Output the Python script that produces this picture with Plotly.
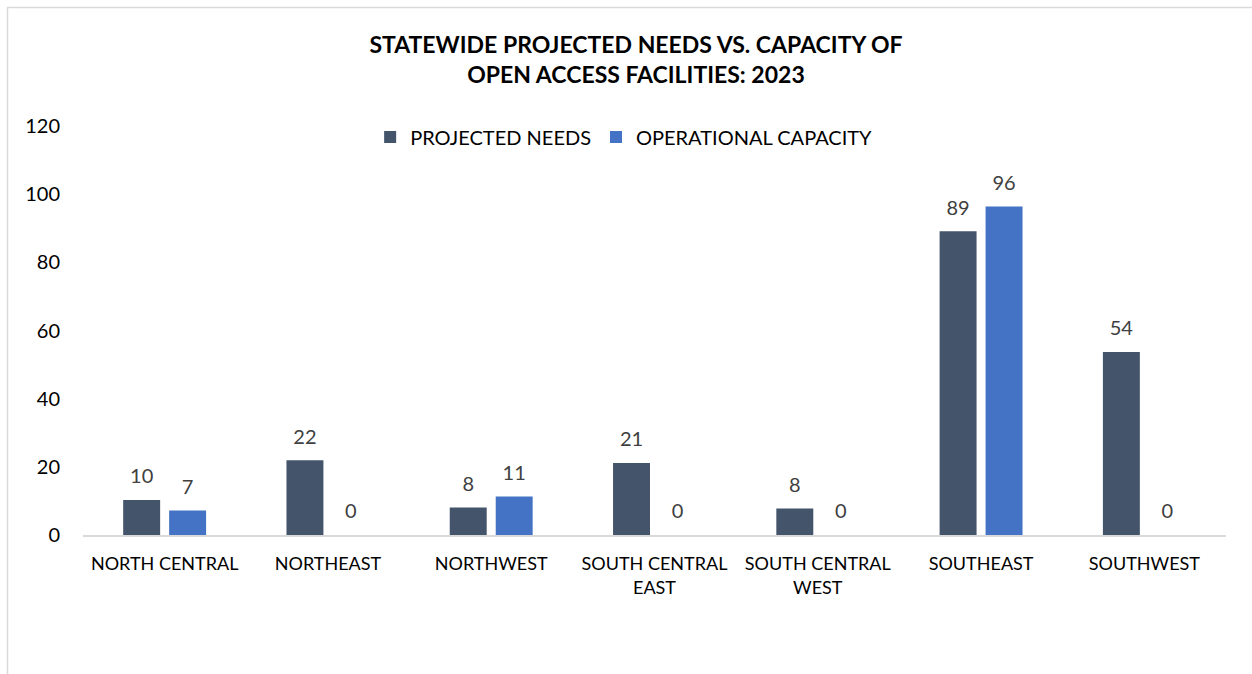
import plotly.graph_objects as go

categories = ["NORTH CENTRAL", "NORTHEAST", "NORTHWEST", "SOUTH CENTRAL<br>EAST",
              "SOUTH CENTRAL<br>WEST", "SOUTHEAST", "SOUTHWEST"]
projected_needs = [10.3, 21.9, 8.1, 21.1, 7.8, 89.1, 53.7]
operational_capacity = [7.2, 0, 11.3, 0, 0, 96.4, 0]
y_ticks = [0, 20, 40, 60, 80, 100, 120]

FONT = "Lato, 'Open Sans', sans-serif"
BARGAP = 0.437

fig = go.Figure()
for name, vals, color, grp in [("PROJECTED NEEDS", projected_needs, "#44546A", "a"),
                               ("OPERATIONAL CAPACITY", operational_capacity, "#4472C4", "b")]:
    fig.add_trace(go.Bar(
        name=name, x=categories, y=vals, offsetgroup=grp,
        marker=dict(color=color, line=dict(width=0)),
    ))
for vals, grp in [(projected_needs, "a"), (operational_capacity, "b")]:
    fig.add_trace(go.Scatter(
        x=categories, y=vals, offsetgroup=grp, mode="markers+text",
        marker=dict(size=17, opacity=0), showlegend=False, hoverinfo="skip",
        text=[f"{v:.0f}" for v in vals], textposition="top center",
        textfont=dict(size=20, color="#404040", family=FONT), cliponaxis=False,
    ))

fig.update_layout(
    width=1252, height=674,
    margin=dict(l=83, r=26, t=126, b=139),
    paper_bgcolor="white", plot_bgcolor="white",
    font=dict(family=FONT, size=18, color="#000000"),
    barmode="group", bargap=BARGAP, bargroupgap=0.196,
    scattermode="group", scattergap=BARGAP,
    title=dict(
        text="<b>STATEWIDE PROJECTED NEEDS VS. CAPACITY OF<br>OPEN ACCESS FACILITIES: 2023</b>",
        x=0.508, xanchor="center", xref="container",
        y=0.921, yanchor="middle", yref="container",
        font=dict(size=23, color="#000000", family=FONT),
    ),
    legend=dict(
        orientation="h", x=0.473, xanchor="center", y=0.973, yanchor="middle",
        font=dict(size=20, color="#000000", family=FONT),
        itemsizing="constant", traceorder="normal", itemwidth=30,
        bgcolor="rgba(0,0,0,0)",
    ),
    xaxis=dict(
        showgrid=False, showline=True, linecolor="#D9D9D9", linewidth=1.5,
        ticks="", tickfont=dict(size=18, color="#000000", family=FONT),
        ticklabelstandoff=12,
    ),
    yaxis=dict(
        range=[0, 120], tickvals=y_ticks, showgrid=False, zeroline=False,
        showline=False, ticks="", tickfont=dict(size=20, color="#000000", family=FONT),
        ticklabelstandoff=22,
    ),
    shapes=[dict(
        type="rect", xref="paper", yref="paper",
        x0=(7.5 - 83) / 1143, x1=(1262 - 83) / 1143,
        y0=(535 - 690) / 409, y1=(535 - 7.5) / 409,
        line=dict(color="#D9D9D9", width=1.5), fillcolor="rgba(0,0,0,0)", layer="below",
    )],
)

fig.write_html("out.html")
